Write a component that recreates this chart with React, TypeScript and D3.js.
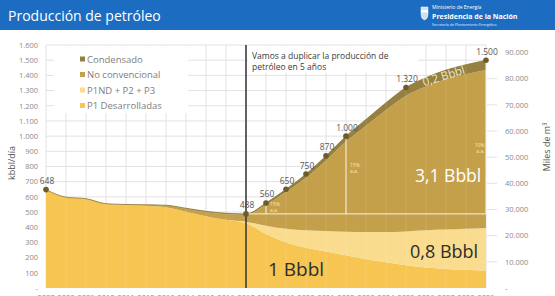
import React from "react";
import * as d3 from "d3";

// años de la serie
const years = [
  2007, 2008, 2009, 2010, 2011, 2012, 2013, 2014, 2015, 2016, 2017, 2018,
  2019, 2020, 2021, 2022, 2023, 2024, 2025, 2026, 2027, 2028, 2029,
];

// producción por tipo, kbbl/día
const p1Desarrolladas = [
  648, 598, 588, 555, 547, 542, 531, 502, 473, 449, 427, 355, 300, 265, 240,
  215, 190, 170, 150, 135, 125, 120, 115,
];
const p1ndP2P3 = [
  0, 0, 0, 0, 0, 0, 0, 0, 0, 0, 10, 55, 90, 115, 135, 155, 178, 198, 222, 245,
  260, 270, 280,
];
const noConvencional = [
  0, 0, 0, 0, 3, 6, 12, 20, 28, 38, 45, 138, 242, 346, 465, 594, 700, 804, 894,
  947, 989, 1017, 1040,
];
const condensado = [
  0, 0, 0, 0, 0, 0, 2, 3, 4, 5, 6, 12, 18, 24, 30, 36, 42, 48, 54, 58, 61, 63,
  65,
];

// años marcados con punto y valor
const hitos = [2007, 2017, 2018, 2019, 2020, 2021, 2022, 2025, 2029];

const leftTicks = [100, 200, 300, 400, 500, 600, 700, 800, 900, 1000, 1100, 1200, 1300, 1400, 1500, 1600];
const rightTicks = [10000, 20000, 30000, 40000, 50000, 60000, 70000, 80000, 90000];

const capas = [
  { key: "p1", label: "P1 Desarrolladas", values: p1Desarrolladas, color: "#F7C552" },
  { key: "p1nd", label: "P1ND + P2 + P3", values: p1ndP2P3, color: "#F9DC8E" },
  { key: "nc", label: "No convencional", values: noConvencional, color: "#C5A04B" },
  { key: "cond", label: "Condensado", values: condensado, color: "#95803F" },
];

// crecimiento anual
const crecimiento = [
  { year: 2018, text: "15%", at: 540, anchor: "start" },
  { year: 2022, text: "15%", at: 800, anchor: "start" },
  { year: 2029, text: "10%", at: 930, anchor: "end" },
];

const FONT = "'Open Sans', sans-serif";
const fmt = (v: number) => (v === 0 ? "-" : d3.format(",")(v).replace(/,/g, "."));

export default function App() {
  const W = 555;
  const H = 296;
  const x = d3.scaleLinear().domain([2007, 2029]).range([46, 486]);
  const y = d3.scaleLinear().domain([0, 1600]).range([288, 45]);
  const yR = d3.scaleLinear().domain([0, 1600 * 0.159 * 365]).range([288, 45]);

  const rows = years.map((yr, i) => {
    const r: any = { year: yr };
    capas.forEach((c) => (r[c.key] = c.values[i]));
    return r;
  });
  const stacked = d3.stack().keys(capas.map((c) => c.key))(rows);
  const area = d3
    .area<any>()
    .x((d) => x(d.data.year))
    .y0((d) => y(d[0]))
    .y1((d) => y(d[1]))
    .curve(d3.curveMonotoneX);

  const total = (yr: number) => {
    const i = years.indexOf(yr);
    return d3.sum(capas, (c) => c.values[i]);
  };
  const base = total(2017);
  const ultimo = stacked[3][stacked[3].length - 1];

  const condTop = d3
    .line<any>()
    .x((d) => x(d.data.year))
    .y((d) => y(d[1]))
    .curve(d3.curveMonotoneX);

  return (
    <svg width={W} height={H} style={{ position: "absolute", left: 0, top: 0, background: "#fff" }} fontFamily={FONT}>
      {/* cabecera */}
      <rect x={0} y={0} width={W} height={30} fill="#1C6DC1" />
      <text x={8} y={21} fill="#fff" fontSize={14}>
        Producción de petróleo
      </text>
      <g transform="translate(421,0)">
        <path d="M0,7 h7 v7 q0,5 -3.5,6 q-3.5,-1 -3.5,-6 z" fill="#cfe0f2" stroke="#fff" strokeWidth={0.5} />
        <rect x={0} y={10} width={7} height={2.5} fill="#fff" />
        <text x={11} y={9.4} fill="#fff" fontSize={5}>Ministerio de Energía</text>
        <text x={11} y={19} fill="#fff" fontSize={7} fontWeight="bold">Presidencia de la Nación</text>
        <text x={11} y={25.5} fill="#e6eefa" fontSize={3.6}>Secretaría de Planeamiento Energético</text>
      </g>

      {/* grilla */}
      {leftTicks.map((t) => (
        <line key={"h" + t} x1={46} x2={486} y1={y(t)} y2={y(t)} stroke="#e2e2e2" strokeWidth={1} />
      ))}
      {years.map((yr) => (
        <line key={"v" + yr} x1={x(yr)} x2={x(yr)} y1={45} y2={288} stroke="#e2e2e2" strokeWidth={1} />
      ))}

      {/* leyenda y nota sobre fondo blanco */}
      <rect x={54} y={46} width={134} height={67} fill="#fff" />
      <rect x={248} y={46} width={170} height={27} fill="#fff" />
      {capas
        .slice()
        .reverse()
        .map((c, i) => (
          <g key={c.key} transform={`translate(80,${59 + i * 15.5})`}>
            <rect x={0} y={-2.5} width={5} height={5} fill={c.color} />
            <text x={7} y={3.5} fontSize={9.5} fill="#7e7e7e">
              {c.label}
            </text>
          </g>
        ))}

      {/* áreas apiladas */}
      {stacked.map((s, i) => (
        <path key={capas[i].key} d={area(s) || ""} fill={capas[i].color} />
      ))}
      {years.map((yr) => (
        <line key={"g" + yr} x1={x(yr)} x2={x(yr)} y1={288} y2={y(total(yr))} stroke="#fff" strokeOpacity={0.12} />
      ))}
      <path d={condTop(stacked[3]) || ""} fill="none" stroke="#8a7636" strokeWidth={0.8} />

      {/* tasas de crecimiento */}
      <line x1={x(2017)} x2={x(2029)} y1={y(base)} y2={y(base)} stroke="#fff" strokeOpacity={0.85} strokeWidth={1} />
      {crecimiento.map((g) => {
        const tx = x(g.year) + (g.anchor === "end" ? -1.5 : 4);
        return (
          <g key={"c" + g.year}>
            <line x1={x(g.year)} x2={x(g.year)} y1={y(base)} y2={y(total(g.year))} stroke="#fff" strokeOpacity={0.85} />
            <text x={tx} y={y(g.at)} fontSize={5} fill="#fbe7b0" textAnchor={g.anchor as any}>
              {g.text}
            </text>
            <text x={tx} y={y(g.at) + 6} fontSize={5} fill="#fbe7b0" textAnchor={g.anchor as any}>
              a.a.
            </text>
          </g>
        );
      })}

      {/* volúmenes */}
      <text x={268} y={276} fontSize={19} fill="#2d2d2d">1 Bbbl</text>
      <text x={410} y={258} fontSize={18} fill="#2d2d2d">0,8 Bbbl</text>
      <text x={415} y={182} fontSize={17.5} fill="#fff">3,1 Bbbl</text>
      <text
        transform={`translate(${x(2025.9)},${y(ultimo[1]) + 26}) rotate(-17)`}
        fontSize={11.5}
        fill="#efe6c8"
      >
        0,2 Bbbl
      </text>

      {/* línea 2017 */}
      <line x1={x(2017)} x2={x(2017)} y1={45} y2={288} stroke="#333" strokeWidth={1.5} />
      <text x={252} y={59} fontSize={8.5} fill="#3a3a3a">
        <tspan x={252}>Vamos a duplicar la producción de</tspan>
        <tspan x={252} dy={11}>petróleo en 5 años</tspan>
      </text>

      {/* puntos */}
      {hitos.map((yr) => (
        <g key={"p" + yr}>
          <circle cx={x(yr)} cy={y(total(yr))} r={2.8} fill="#6d5c28" />
          <text x={x(yr) + 1} y={y(total(yr)) - 5.5} fontSize={8.5} fill="#555" textAnchor="middle">
            {fmt(total(yr))}
          </text>
        </g>
      ))}

      {/* eje izquierdo */}
      {[0, ...leftTicks].map((t) => (
        <text key={"l" + t} x={38} y={y(t) + 2.8} fontSize={7.5} fill="#8a8a8a" textAnchor="end">
          {fmt(t)}
        </text>
      ))}
      <text transform="translate(15,163) rotate(-90)" fontSize={9} fill="#555" textAnchor="middle">
        kbbl/día
      </text>

      {/* eje derecho */}
      {[0, ...rightTicks].map((t) => (
        <g key={"r" + t}>
          {t > 0 && t < 90000 && <line x1={487} x2={497} y1={yR(t)} y2={yR(t)} stroke="#e2e2e2" />}
          <text x={505} y={yR(t) + 2.8} fontSize={7.5} fill="#8a8a8a">
            {fmt(t)}
          </text>
        </g>
      ))}
      <text transform="translate(550,147) rotate(-90)" fontSize={9} fill="#555" textAnchor="middle">
        Miles de m³
      </text>

      {/* años */}
      {years.map((yr) => (
        <text key={"a" + yr} x={x(yr)} y={299.5} fontSize={7.5} fill="#8a8a8a" textAnchor="middle">
          {yr}
        </text>
      ))}
    </svg>
  );
}
